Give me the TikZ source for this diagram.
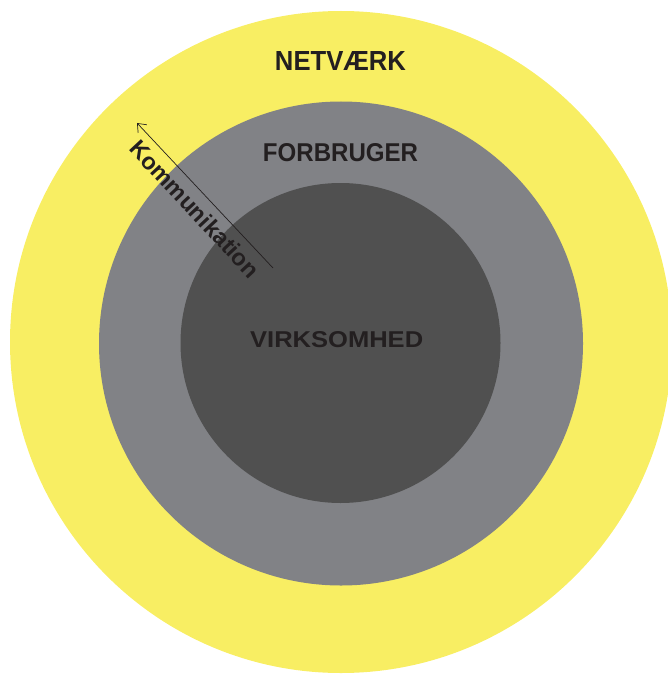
\documentclass[tikz,border=0pt]{standalone}
\usepackage{fontspec}
\setmainfont{Liberation Sans}
\usetikzlibrary{arrows.meta}
\definecolor{netyellow}{RGB}{248,238,99}
\definecolor{forgray}{RGB}{129,130,134}
\definecolor{virkgray}{RGB}{80,80,80}
\definecolor{inktext}{RGB}{35,31,32}
\begin{document}
\begin{tikzpicture}[x=1pt,y=-1pt,
  ring/.style={circle, draw=none, inner sep=0pt, outer sep=0pt, minimum size=#1},
  ringlabel/.style={text=inktext, font=\bfseries, inner sep=0pt},
  flowarrow/.style={draw=inktext, line width=0.7pt,
    -{Straight Barb[length=7.5pt,width=12pt]}}]
\useasboundingbox (0,0) rectangle (668,674);
\clip (0,0) rectangle (668,674);

% three nested circles
\node[ring=662pt, fill=netyellow] (netvaerk) at (341,342) {};
\node[ring=484pt, fill=forgray]   (forbruger) at (341,343.5) {};
\node[ring=320pt, fill=virkgray]  (virksomhed) at (340.5,343) {};

% circle titles
\node[ringlabel] (tnet)  at (340.5,60.5) {\resizebox{131pt}{19pt}{NETVÆRK}};
\node[ringlabel] (tfor)  at (340.5,152.5) {\resizebox{155pt}{18pt}{FORBRUGER}};
\node[ringlabel] (tvirk) at (336.7,339.7) {\resizebox{173pt}{16pt}{VIRKSOMHED}};

% communication arrow from the core outwards
\coordinate (kstart) at (273,268);
\coordinate (kend) at (137,123);
\draw[flowarrow] (kstart) -- (kend);
\node[ringlabel, rotate=-47, font=\bfseries\fontsize{23.5}{24}\selectfont]
  (tkom) at (195,209) {Kommunikation};
\end{tikzpicture}
\end{document}
